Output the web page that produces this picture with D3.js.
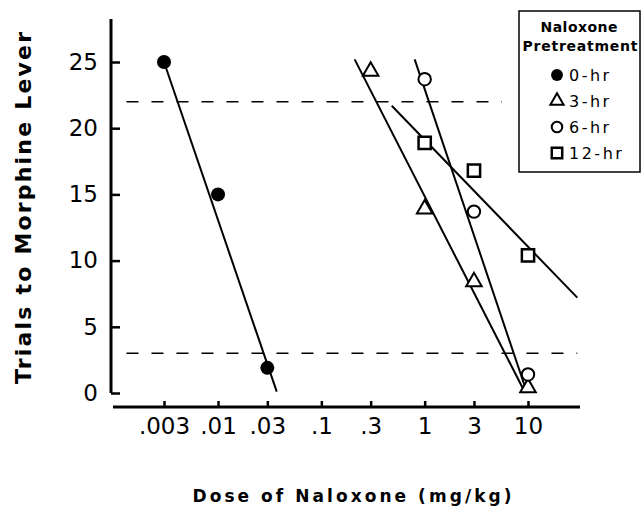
<!DOCTYPE html>
<html>
<head>
<meta charset="utf-8">
<script src="https://d3js.org/d3.v7.min.js"></script>
<style>
  body { margin: 0; background: #fff; }
  svg { display: block; font-family: "DejaVu Sans", sans-serif; }
</style>
</head>
<body>
<div id="chart"></div>
<script>
var width = 644,
    height = 510;

// tick values and labels
var doseTicks = [0.003, 0.01, 0.03, 0.1, 0.3, 1, 3, 10];
var doseTickLabels = [".003", ".01", ".03", ".1", ".3", "1", "3", "10"];
var trialTicks = [0, 5, 10, 15, 20, 25];

// pretreatment groups
var groups = ["0-hr", "3-hr", "6-hr", "12-hr"];
var groupSymbols = ["dot", "triangle", "circle", "square"];

// observed points per group
var doses0 = [0.003, 0.01, 0.03],  trials0 = [25, 15, 1.9];
var doses3 = [0.3, 1, 3, 10],      trials3 = [24.3, 13.9, 8.4, 0.4];
var doses6 = [1, 3, 10],           trials6 = [23.7, 13.7, 1.4];
var doses12 = [1, 3, 10],          trials12 = [18.9, 16.8, 10.4];

// fitted lines: [dose start, dose end], [trials start, trials end]
var fitDoses = [[0.003, 0.037], [0.21, 9.4], [0.8, 9.8], [0.48, 30]];
var fitTrials = [[25, 0.1], [25.2, 0], [25.2, 0], [21.7, 7.2]];

// criterion (dashed) lines
var criterionTrials = [22, 3];
var criterionDoses = [[0.0013, 5.6], [0.0013, 30]];

var x = d3.scaleLog()
    .domain([0.003, 10])
    .range([164, 528]);

var y = d3.scaleLinear()
    .domain([0, 25])
    .range([393, 62]);

var svg = d3.select("#chart").append("svg")
    .attr("width", width)
    .attr("height", height)
    .attr("viewBox", [0, 0, width, height]);

// y axis
var yAxis = svg.append("g")
    .attr("transform", "translate(111,0)")
    .call(d3.axisLeft(y).tickValues(trialTicks).tickSize(-9).tickPadding(13));
yAxis.select(".domain").remove();
yAxis.selectAll(".tick line").attr("stroke", "#000").attr("stroke-width", 2.5);
yAxis.selectAll(".tick text")
    .attr("font-size", 23)
    .attr("font-family", "DejaVu Sans, sans-serif")
    .attr("fill", "#000");
svg.append("line")
    .attr("x1", 111).attr("x2", 111)
    .attr("y1", 19).attr("y2", y(0))
    .attr("stroke", "#000").attr("stroke-width", 3);

// x axis
var xAxis = svg.append("g")
    .attr("transform", "translate(0,407)")
    .call(d3.axisBottom(x).tickValues(doseTicks)
      .tickFormat(function(d, i) { return doseTickLabels[i]; })
      .tickSize(-6).tickPadding(11));
xAxis.select(".domain").remove();
xAxis.selectAll(".tick line").attr("stroke", "#000").attr("stroke-width", 2.5);
xAxis.selectAll(".tick text")
    .attr("font-size", 23)
    .attr("font-family", "DejaVu Sans, sans-serif")
    .attr("fill", "#000");
svg.append("line")
    .attr("x1", 113).attr("x2", 580)
    .attr("y1", 407).attr("y2", 407)
    .attr("stroke", "#000").attr("stroke-width", 3);

// axis titles
svg.append("text")
    .attr("transform", "translate(31,208) rotate(-90)")
    .attr("text-anchor", "middle")
    .attr("font-size", 22)
    .attr("font-weight", "bold")
    .attr("textLength", 352)
    .attr("lengthAdjust", "spacing")
    .text("Trials to Morphine Lever");

svg.append("text")
    .attr("x", 352)
    .attr("y", 502)
    .attr("text-anchor", "middle")
    .attr("font-size", 17)
    .attr("font-weight", "bold")
    .attr("textLength", 319)
    .attr("lengthAdjust", "spacing")
    .text("Dose of Naloxone (mg/kg)");

// dashed criterion lines
svg.selectAll(".criterion")
    .data(criterionTrials)
    .enter().append("line")
    .attr("class", "criterion")
    .attr("x1", function(d, i) { return x(criterionDoses[i][0]); })
    .attr("x2", function(d, i) { return x(criterionDoses[i][1]); })
    .attr("y1", function(d) { return y(d); })
    .attr("y2", function(d) { return y(d); })
    .attr("stroke", "#000")
    .attr("stroke-width", 1.5)
    .attr("stroke-dasharray", "12,13");

// fitted lines
svg.selectAll(".fit")
    .data(fitDoses)
    .enter().append("line")
    .attr("class", "fit")
    .attr("x1", function(d) { return x(d[0]); })
    .attr("x2", function(d) { return x(d[1]); })
    .attr("y1", function(d, i) { return y(fitTrials[i][0]); })
    .attr("y2", function(d, i) { return y(fitTrials[i][1]); })
    .attr("stroke", "#000")
    .attr("stroke-width", 2);

// draw a marker of a given kind
function drawMarker(sel, kind, cx, cy, scale) {
  if (kind === "dot") {
    sel.append("circle").attr("cx", cx).attr("cy", cy).attr("r", 7 * scale)
        .attr("fill", "#000");
  } else if (kind === "circle") {
    sel.append("circle").attr("cx", cx).attr("cy", cy).attr("r", 6.2 * scale)
        .attr("fill", "#fff").attr("stroke", "#000").attr("stroke-width", 2);
  } else if (kind === "triangle") {
    sel.append("path")
        .attr("d", d3.symbol().type(d3.symbolTriangle).size(105 * scale * scale)())
        .attr("transform", "translate(" + cx + "," + cy + ")")
        .attr("fill", "#fff").attr("stroke", "#000").attr("stroke-width", 2)
        .attr("stroke-linejoin", "miter");
  } else {
    sel.append("path")
        .attr("d", d3.symbol().type(d3.symbolSquare).size(150 * scale * scale)())
        .attr("transform", "translate(" + cx + "," + cy + ")")
        .attr("fill", "#fff").attr("stroke", "#000").attr("stroke-width", 2.5);
  }
}

var pointDoses = [doses0, doses3, doses6, doses12];
var pointTrials = [trials0, trials3, trials6, trials12];

var points = svg.append("g");
pointDoses.forEach(function(ds, g) {
  ds.forEach(function(d, i) {
    drawMarker(points, groupSymbols[g], x(d), y(pointTrials[g][i]), 1);
  });
});

// legend
var legend = svg.append("g");
legend.append("rect")
    .attr("x", 519).attr("y", 11)
    .attr("width", 121).attr("height", 161)
    .attr("fill", "#fff")
    .attr("stroke", "#000")
    .attr("stroke-width", 1.5);
legend.append("text")
    .attr("x", 579).attr("y", 32)
    .attr("text-anchor", "middle")
    .attr("font-size", 14).attr("font-weight", "bold")
    .attr("textLength", 77).attr("lengthAdjust", "spacing")
    .text("Naloxone");
legend.append("text")
    .attr("x", 580).attr("y", 51)
    .attr("text-anchor", "middle")
    .attr("font-size", 14).attr("font-weight", "bold")
    .attr("textLength", 115).attr("lengthAdjust", "spacing")
    .text("Pretreatment");

groups.forEach(function(name, i) {
  var cy = 75 + i * 26;
  drawMarker(legend, groupSymbols[i], 557, cy, 0.85);
  legend.append("text")
      .attr("x", 569).attr("y", cy + 6)
      .attr("font-size", 16)
      .attr("letter-spacing", 2.5)
      .text(name);
});
</script>
</body>
</html>
